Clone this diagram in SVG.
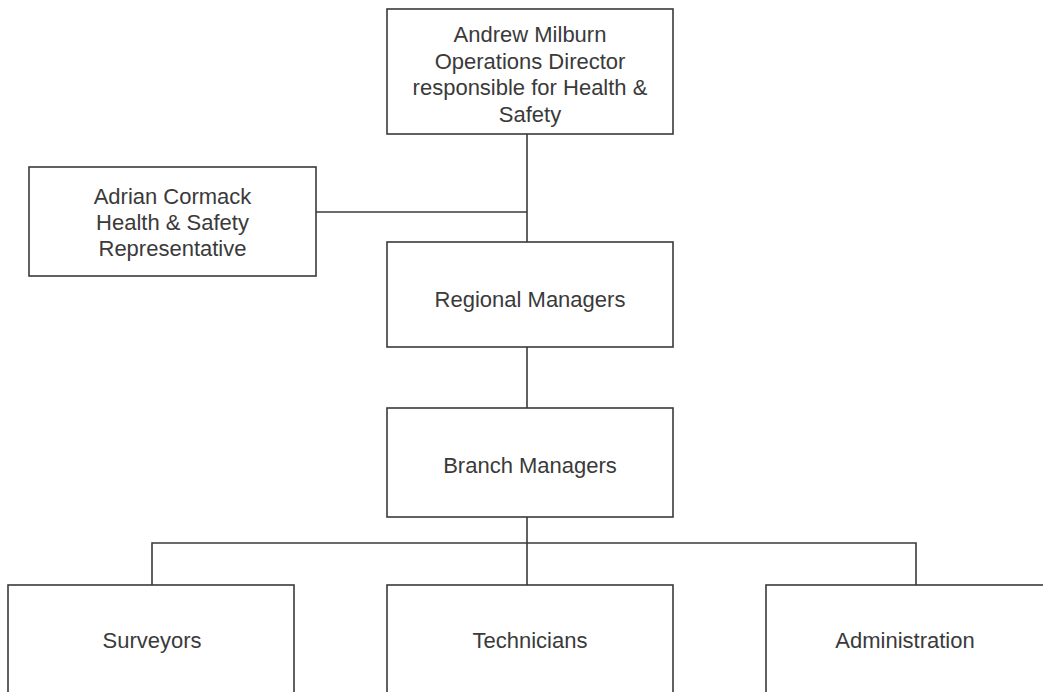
<svg xmlns="http://www.w3.org/2000/svg" width="1043" height="692" viewBox="0 0 1043 692">
<style>
.box{fill:#fff;stroke:#3a3a3a;stroke-width:1.6}
.ln{fill:none;stroke:#3a3a3a;stroke-width:1.6}
text{font-family:"Liberation Sans",Arial,sans-serif;font-size:22px;fill:#3a3a3a;text-anchor:middle}
</style>
<rect width="1043" height="692" fill="#fff"/>
<g id="connectors">
<line class="ln" x1="527" y1="134" x2="527" y2="242"/>
<line class="ln" x1="316" y1="212" x2="527" y2="212"/>
<line class="ln" x1="527" y1="347" x2="527" y2="408"/>
<line class="ln" x1="527" y1="517" x2="527" y2="585"/>
<polyline class="ln" points="152,585 152,543 916,543 916,585"/>
</g>
<g id="node-director">
<rect class="box" x="387" y="9" width="286" height="125"/>
<text x="530" y="42">Andrew Milburn</text>
<text x="530" y="68.5">Operations Director</text>
<text x="530" y="95">responsible for Health &amp;</text>
<text x="530" y="121.5">Safety</text>
</g>
<g id="node-rep">
<rect class="box" x="29" y="167" width="287" height="109"/>
<text x="172.5" y="204">Adrian Cormack</text>
<text x="172.5" y="230">Health &amp; Safety</text>
<text x="172.5" y="256">Representative</text>
</g>
<g id="node-regional">
<rect class="box" x="387" y="242" width="286" height="105"/>
<text x="530" y="307">Regional Managers</text>
</g>
<g id="node-branch">
<rect class="box" x="387" y="408" width="286" height="109"/>
<text x="530" y="473">Branch Managers</text>
</g>
<g id="node-surveyors">
<rect class="box" x="8" y="585" width="286" height="120"/>
<text x="152" y="648">Surveyors</text>
</g>
<g id="node-technicians">
<rect class="box" x="387" y="585" width="286" height="120"/>
<text x="530" y="648">Technicians</text>
</g>
<g id="node-admin">
<rect class="box" x="766" y="585" width="286" height="120"/>
<text x="905" y="648">Administration</text>
</g>
</svg>
